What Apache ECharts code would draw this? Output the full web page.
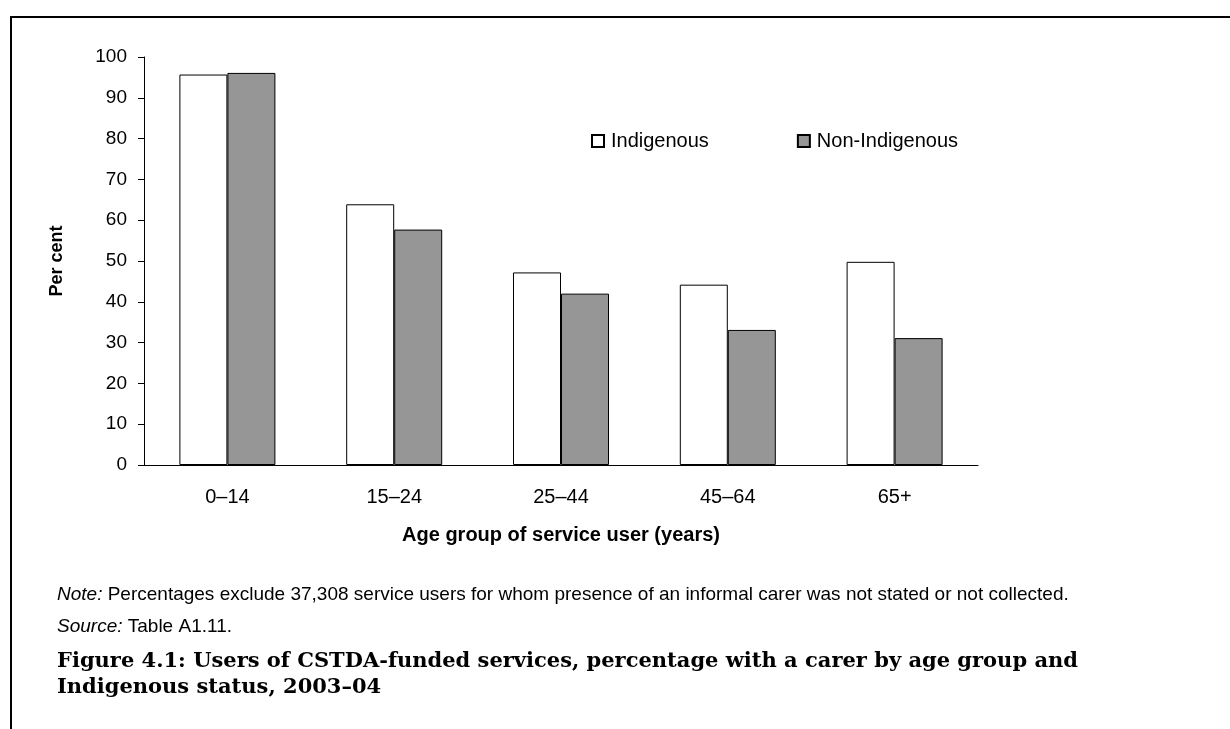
<!DOCTYPE html>
<html><head><meta charset="utf-8">
<script src="https://cdn.jsdelivr.net/npm/echarts@6/dist/echarts.min.js"></script>
<style>html,body{margin:0;padding:0;background:#fff}#c{width:1230px;height:729px}</style>
</head><body><div id="c"></div>
<script>
const categories = ['0–14', '15–24', '25–44', '45–64', '65+'];
const indigenous = [95.7, 63.9, 47.2, 44.2, 49.8];
const nonIndigenous = [96.1, 57.7, 42.0, 33.1, 31.1];
const yTicks = { min: 0, max: 100, interval: 10 };

const chart = echarts.init(document.getElementById('c'));
const font = 'Liberation Sans, Arial, sans-serif';
chart.setOption({
  animation: false,
  backgroundColor: '#fff',
  grid: { left: 144, right: 252, top: 57, bottom: 264 },
  legend: {
    left: 586, top: 126, itemWidth: 12, itemHeight: 12, itemGap: 88,
    icon: 'rect',
    textStyle: { fontFamily: font, fontSize: 20, color: '#000', padding: [0, 0, 0, 2] },
    data: ['Indigenous', 'Non-Indigenous']
  },
  xAxis: {
    type: 'category', data: categories,
    name: 'Age group of service user (years)', nameLocation: 'middle', nameGap: 60,
    nameTextStyle: { fontFamily: font, fontSize: 20, fontWeight: 'bold', color: '#000' },
    axisLine: { lineStyle: { color: '#000', width: 1 } },
    axisTick: { length: 7, lineStyle: { color: '#000' } },
    axisLabel: { fontFamily: font, fontSize: 20, color: '#000', margin: 22 }
  },
  yAxis: {
    type: 'value', min: yTicks.min, max: yTicks.max, interval: yTicks.interval,
    name: 'Per cent', nameLocation: 'middle', nameGap: 78,
    nameTextStyle: { fontFamily: font, fontSize: 18, fontWeight: 'bold', color: '#000' },
    axisLine: { show: true, lineStyle: { color: '#000', width: 1 } },
    axisTick: { show: true, length: 6, lineStyle: { color: '#000' } },
    splitLine: { show: false },
    axisLabel: { fontFamily: font, fontSize: 19, color: '#000', margin: 17 }
  },
  series: [
    { name: 'Indigenous', type: 'bar', data: indigenous, barWidth: 48, barGap: '0%',
      itemStyle: { color: '#fff', borderColor: '#000', borderWidth: 1 } },
    { name: 'Non-Indigenous', type: 'bar', data: nonIndigenous, barWidth: 48,
      itemStyle: { color: '#969696', borderColor: '#000', borderWidth: 1 } }
  ],
  graphic: [
    { type: 'line', shape: { x1: 10, y1: 17, x2: 1230, y2: 17 }, style: { stroke: '#000', lineWidth: 2 } },
    { type: 'line', shape: { x1: 11, y1: 16, x2: 11, y2: 729 }, style: { stroke: '#000', lineWidth: 2 } },
    { type: 'text', left: 57, top: 585, style: { rich: { i: { fontStyle: 'italic', fontFamily: font, fontSize: 19, fill: '#000' }, n: { fontFamily: font, fontSize: 19, fill: '#000' } }, text: '{i|Note:}{n| Percentages exclude 37,308 service users for whom presence of an informal carer was not stated or not collected.}' } },
    { type: 'text', left: 57, top: 617, style: { rich: { i: { fontStyle: 'italic', fontFamily: font, fontSize: 19, fill: '#000' }, n: { fontFamily: font, fontSize: 19, fill: '#000' } }, text: '{i|Source:}{n| Table A1.11.}' } },
    { type: 'text', left: 57, top: 649, style: { text: 'Figure 4.1: Users of CSTDA-funded services, percentage with a carer by age group and\nIndigenous status, 2003–04', fontFamily: 'DejaVu Serif, serif', fontWeight: 'bold', fontSize: 21, lineHeight: 26, fill: '#000' } }
  ]
});
</script></body></html>
